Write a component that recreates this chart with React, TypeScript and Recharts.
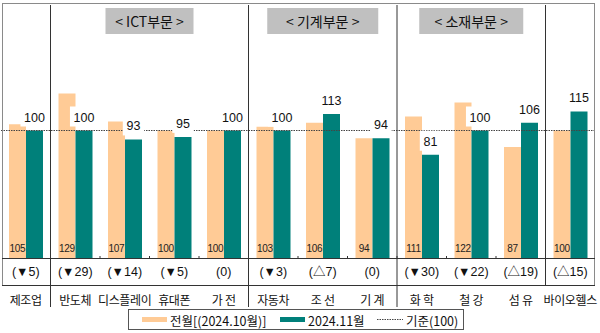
import React from 'react';
import { BarChart, Bar, XAxis, YAxis, ReferenceLine, ReferenceArea, LabelList, Legend } from 'recharts';

const categories = ['제조업', '반도체', '디스플레이', '휴대폰', '가 전', '자동차', '조 선', '기 계', '화 학', '철 강', '섬 유', '바이오헬스'];
const prevValues = [105, 129, 107, 100, 100, 103, 106, 94, 111, 122, 87, 100];
const currValues = [100, 100, 93, 95, 100, 100, 113, 94, 81, 100, 106, 115];
const changeLabels = ['(▼5)', '(▼29)', '(▼14)', '(▼5)', '(0)', '(▼3)', '(△7)', '(0)', '(▼30)', '(▼22)', '(△19)', '(△15)'];
const sectionTitles = ['< ICT부문 >', '< 기계부문 >', '< 소재부문 >'];
const sectionFrom = ['반도체', '자동차', '화 학'];
const sectionTo = ['가 전', '기 계', '섬 유'];
const separatorAt = ['반도체', '자동차', '화 학', '바이오헬스'];
const baseValue = 100;
const legendPrev = '전월[(2024.10월)]';
const legendCurr = '2024.11월';
const legendBase = '기준(100)';

const data = categories.map((name, i) => ({
  name,
  prev: prevValues[i],
  curr: currValues[i],
  change: changeLabels[i],
}));

const ORANGE = '#FFCB96';
const TEAL = '#00807A';
const LINE = '#333333';
const FONT = "'Liberation Sans', 'Noto Sans CJK KR', sans-serif";
const KFONT = "'Noto Sans CJK KR', 'Liberation Sans', sans-serif";
const HALF_BAND = 24.75;

const Tick = (props: any) => {
  const { x, y, index, payload } = props;
  const d = data[index] || data.find((r) => r.name === payload.value);
  return (
    <g>
      {index < categories.length - 1 && (
        <line x1={x + HALF_BAND} x2={x + HALF_BAND} y1={y - 2} y2={y} stroke={LINE} strokeWidth={1} />
      )}
      <text x={x} y={y + 14} textAnchor="middle" dominantBaseline="central" fontSize={12.5} fontFamily={FONT} fill="#111">
        {d ? d.change : ''}
      </text>
      <text x={x} y={y + 41} textAnchor="middle" dominantBaseline="central" fontSize={12} fontFamily={KFONT} fill="#111" letterSpacing={-0.3}>
        {payload.value}
      </text>
    </g>
  );
};

const CurrLabel = (props: any) => {
  const { x, y, width, value } = props;
  const cx = x + width / 2;
  const tw = String(value).length * 6.7;
  return (
    <g>
      <rect x={cx - tw / 2 - 4} y={y - 24} width={tw + 8} height={20} fill="#fff" />
      <text x={cx} y={y - 13} textAnchor="middle" dominantBaseline="central" fontSize={12.5} fontFamily={FONT} fill="#111">
        {value}
      </text>
    </g>
  );
};

const PrevLabel = (props: any) => {
  const { x, y, width, height, value } = props;
  return (
    <text x={x + width / 2} y={y + height - 6} textAnchor="middle" fontSize={10} fontFamily="'Liberation Sans Narrow', 'Liberation Sans', sans-serif" fill="#222" letterSpacing={-0.3}>
      {value}
    </text>
  );
};

const sepShape = (ext: number) => (props: any) => {
  const top = Math.min(props.y1, props.y2);
  const bottom = Math.max(props.y1, props.y2);
  return <line x1={props.x1} x2={props.x1} y1={top + 2} y2={bottom + ext} stroke={LINE} strokeWidth={1} />;
};

const headerShape = (title: string, boxW: number) => (props: any) => {
  const { x, y, width } = props;
  const cx = x + width / 2;
  return (
    <g>
      <rect x={cx - boxW / 2} y={y + 5} width={boxW} height={26} fill="#C0C0C0" />
      <text x={cx} y={y + 18} textAnchor="middle" dominantBaseline="central" fontSize={14} fontFamily={KFONT} fill="#111">
        {title}
      </text>
    </g>
  );
};

const headerWidths = [88, 111, 104];

const LegendContent = () => (
  <svg width={336} height={21} style={{ display: 'block' }}>
    <rect x={0.5} y={0.5} width={335} height={20} fill="#fff" stroke="#555" />
    <rect x={14} y={8} width={25} height={5} fill={ORANGE} />
    <text x={42} y={11} dominantBaseline="central" fontSize={12.5} fontFamily={KFONT} fill="#111">{legendPrev}</text>
    <rect x={152} y={8} width={25} height={5} fill={TEAL} />
    <text x={180} y={11} dominantBaseline="central" fontSize={12.5} fontFamily={KFONT} fill="#111">{legendCurr}</text>
    <line x1={249} x2={275} y1={10.5} y2={10.5} stroke="#444" strokeDasharray="1.5 1" />
    <text x={278} y={11} dominantBaseline="central" fontSize={12.5} fontFamily={KFONT} fill="#111">{legendBase}</text>
  </svg>
);

export default function App() {
  return (
    <div style={{ position: 'absolute', left: 0, top: 0, width: 600, height: 333, background: '#fff' }}>
      <BarChart
        width={600}
        height={333}
        data={data}
        margin={{ top: 3, right: 5, left: 1, bottom: 3 }}
        barGap={0}
        barCategoryGap={8}
      >
        <YAxis hide domain={[0, 200]} type="number" />
        <XAxis
          dataKey="name"
          height={51}
          tickLine={false}
          axisLine={false}
          tickSize={0}
          tickMargin={0}
          interval={0}
          tick={<Tick />}
        />
        <ReferenceLine y={baseValue} stroke="#444" strokeDasharray="1.5 1" strokeWidth={1} />
        {sectionTitles.map((t, i) => (
          <ReferenceArea
            key={t}
            x1={sectionFrom[i]}
            x2={sectionTo[i]}
            shape={headerShape(t, headerWidths[i])}
          />
        ))}
        {separatorAt.map((c, i) => (
          <ReferenceLine key={c} x={c} position="start" shape={sepShape(i < 3 ? 49 : 27)} />
        ))}
        <Bar dataKey="prev" fill={ORANGE} isAnimationActive={false}>
          <LabelList dataKey="prev" content={<PrevLabel />} />
        </Bar>
        <Bar dataKey="curr" fill={TEAL} isAnimationActive={false}>
          <LabelList dataKey="curr" content={<CurrLabel />} />
        </Bar>
        <Legend
          verticalAlign="bottom"
          content={<LegendContent />}
          wrapperStyle={{ left: 128, width: 336, bottom: 3 }}
        />
      </BarChart>
      <svg width={600} height={333} style={{ position: 'absolute', left: 0, top: 0, pointerEvents: 'none' }}>
        <rect x={2.5} y={3.5} width={592} height={282} fill="none" stroke="#8a8a8a" />
        <line x1={2} x2={595} y1={258.5} y2={258.5} stroke={LINE} />
        <line x1={2} x2={595} y1={285.5} y2={285.5} stroke={LINE} />
      </svg>
    </div>
  );
}
